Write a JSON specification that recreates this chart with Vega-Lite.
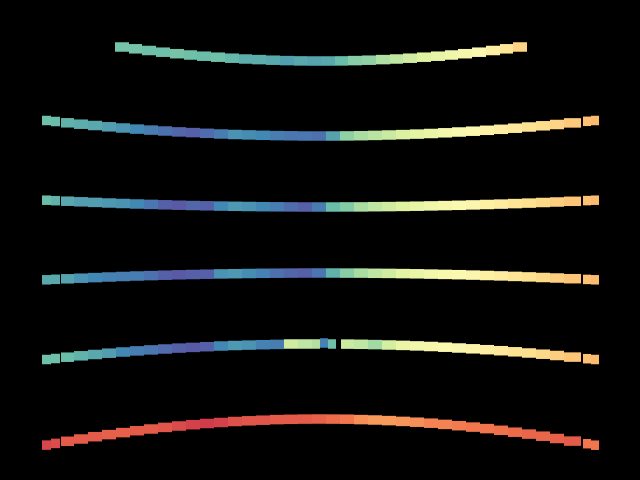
{
  "$schema": "https://vega.github.io/schema/vega-lite/v6.json",
  "width": 640,
  "height": 480,
  "autosize": {"type": "fit", "contains": "padding"},
  "padding": 0,
  "background": "#000000",
  "config": {"view": {"stroke": null}},
  "data": {
    "values": [
      {"r":1,"a":115,"b":129,"y":47.0,"v":0.78},{"r":1,"a":129,"b":142,"y":48.8,"v":0.78},{"r":1,"a":142,"b":156,"y":50.5,"v":0.79},{"r":1,"a":156,"b":170,"y":52.2,"v":0.79},{"r":1,"a":170,"b":184,"y":53.7,"v":0.78},{"r":1,"a":184,"b":197,"y":55.0,"v":0.79},{"r":1,"a":197,"b":211,"y":56.2,"v":0.80},{"r":1,"a":211,"b":225,"y":57.2,"v":0.79},{"r":1,"a":225,"b":239,"y":58.2,"v":0.81},{"r":1,"a":239,"b":252,"y":59.0,"v":0.83},{"r":1,"a":252,"b":266,"y":59.6,"v":0.83},{"r":1,"a":266,"b":280,"y":60.2,"v":0.84},{"r":1,"a":280,"b":294,"y":60.6,"v":0.86},{"r":1,"a":294,"b":307,"y":60.9,"v":0.84},{"r":1,"a":307,"b":321,"y":61.0,"v":0.85},{"r":1,"a":321,"b":335,"y":61.0,"v":0.84},{"r":1,"a":335,"b":348,"y":60.9,"v":0.80},{"r":1,"a":348,"b":362,"y":60.6,"v":0.75},{"r":1,"a":362,"b":376,"y":60.2,"v":0.74},{"r":1,"a":376,"b":390,"y":59.6,"v":0.69},{"r":1,"a":390,"b":403,"y":59.0,"v":0.66},{"r":1,"a":403,"b":417,"y":58.2,"v":0.63},{"r":1,"a":417,"b":431,"y":57.2,"v":0.60},{"r":1,"a":431,"b":445,"y":56.2,"v":0.57},{"r":1,"a":445,"b":458,"y":55.0,"v":0.54},{"r":1,"a":458,"b":472,"y":53.7,"v":0.52},{"r":1,"a":472,"b":486,"y":52.2,"v":0.50},{"r":1,"a":486,"b":500,"y":50.5,"v":0.47},{"r":1,"a":500,"b":513,"y":48.8,"v":0.43},{"r":1,"a":513,"b":527,"y":47.0,"v":0.38},

      {"r":2,"a":42,"b":51,"y":120.5,"v":0.79},{"r":2,"a":51,"b":60,"y":121.5,"v":0.80},{"r":2,"a":61,"b":74,"y":122.8,"v":0.82},{"r":2,"a":74,"b":88,"y":124.2,"v":0.83},{"r":2,"a":88,"b":102,"y":125.5,"v":0.84},{"r":2,"a":102,"b":116,"y":126.8,"v":0.86},{"r":2,"a":116,"b":130,"y":128.0,"v":0.88},{"r":2,"a":130,"b":144,"y":129.1,"v":0.90},{"r":2,"a":144,"b":158,"y":130.1,"v":0.92},{"r":2,"a":158,"b":172,"y":131.0,"v":0.94},{"r":2,"a":172,"b":186,"y":131.9,"v":0.96},{"r":2,"a":186,"b":200,"y":132.6,"v":0.97},{"r":2,"a":200,"b":214,"y":133.3,"v":0.95},{"r":2,"a":214,"b":228,"y":134.0,"v":0.92},{"r":2,"a":228,"b":242,"y":134.5,"v":0.88},{"r":2,"a":242,"b":256,"y":134.9,"v":0.89},{"r":2,"a":256,"b":270,"y":135.3,"v":0.90},{"r":2,"a":270,"b":284,"y":135.6,"v":0.92},{"r":2,"a":284,"b":298,"y":135.8,"v":0.93},{"r":2,"a":298,"b":312,"y":136.0,"v":0.93},{"r":2,"a":312,"b":326,"y":136.0,"v":0.94},{"r":2,"a":326,"b":340,"y":136.0,"v":0.85},{"r":2,"a":340,"b":354,"y":135.9,"v":0.74},{"r":2,"a":354,"b":368,"y":135.7,"v":0.70},{"r":2,"a":368,"b":382,"y":135.4,"v":0.67},{"r":2,"a":382,"b":396,"y":135.0,"v":0.64},{"r":2,"a":396,"b":410,"y":134.6,"v":0.61},{"r":2,"a":410,"b":424,"y":134.1,"v":0.59},{"r":2,"a":424,"b":438,"y":133.5,"v":0.56},{"r":2,"a":438,"b":452,"y":132.8,"v":0.53},{"r":2,"a":452,"b":466,"y":132.0,"v":0.51},{"r":2,"a":466,"b":480,"y":131.2,"v":0.50},{"r":2,"a":480,"b":494,"y":130.3,"v":0.48},{"r":2,"a":494,"b":508,"y":129.3,"v":0.46},{"r":2,"a":508,"b":522,"y":128.2,"v":0.44},{"r":2,"a":522,"b":536,"y":127.0,"v":0.42},{"r":2,"a":536,"b":550,"y":125.8,"v":0.40},{"r":2,"a":550,"b":564,"y":124.5,"v":0.38},{"r":2,"a":564,"b":581,"y":122.9,"v":0.36},{"r":2,"a":583,"b":591,"y":121.3,"v":0.34},{"r":2,"a":591,"b":599,"y":120.5,"v":0.33},

      {"r":3,"a":42,"b":51,"y":200.2,"v":0.80},{"r":3,"a":51,"b":60,"y":200.7,"v":0.82},{"r":3,"a":61,"b":74,"y":201.2,"v":0.84},{"r":3,"a":74,"b":88,"y":201.8,"v":0.86},{"r":3,"a":88,"b":102,"y":202.4,"v":0.86},{"r":3,"a":102,"b":116,"y":203.0,"v":0.87},{"r":3,"a":116,"b":130,"y":203.5,"v":0.88},{"r":3,"a":130,"b":144,"y":204.0,"v":0.90},{"r":3,"a":144,"b":158,"y":204.4,"v":0.93},{"r":3,"a":158,"b":172,"y":204.8,"v":0.97},{"r":3,"a":172,"b":186,"y":205.2,"v":0.98},{"r":3,"a":186,"b":200,"y":205.5,"v":0.96},{"r":3,"a":200,"b":214,"y":205.8,"v":0.97},{"r":3,"a":214,"b":228,"y":206.1,"v":0.90},{"r":3,"a":228,"b":242,"y":206.3,"v":0.87},{"r":3,"a":242,"b":256,"y":206.5,"v":0.88},{"r":3,"a":256,"b":270,"y":206.7,"v":0.90},{"r":3,"a":270,"b":284,"y":206.8,"v":0.92},{"r":3,"a":284,"b":298,"y":206.9,"v":0.95},{"r":3,"a":298,"b":312,"y":207.0,"v":0.97},{"r":3,"a":312,"b":326,"y":207.0,"v":0.92},{"r":3,"a":326,"b":340,"y":207.0,"v":0.80},{"r":3,"a":340,"b":354,"y":206.9,"v":0.76},{"r":3,"a":354,"b":368,"y":206.9,"v":0.70},{"r":3,"a":368,"b":382,"y":206.7,"v":0.66},{"r":3,"a":382,"b":396,"y":206.6,"v":0.63},{"r":3,"a":396,"b":410,"y":206.4,"v":0.60},{"r":3,"a":410,"b":424,"y":206.2,"v":0.57},{"r":3,"a":424,"b":438,"y":205.9,"v":0.54},{"r":3,"a":438,"b":452,"y":205.6,"v":0.52},{"r":3,"a":452,"b":466,"y":205.3,"v":0.50},{"r":3,"a":466,"b":480,"y":204.9,"v":0.49},{"r":3,"a":480,"b":494,"y":204.5,"v":0.47},{"r":3,"a":494,"b":508,"y":204.1,"v":0.45},{"r":3,"a":508,"b":522,"y":203.6,"v":0.43},{"r":3,"a":522,"b":536,"y":203.1,"v":0.41},{"r":3,"a":536,"b":550,"y":202.5,"v":0.39},{"r":3,"a":550,"b":564,"y":202.0,"v":0.37},{"r":3,"a":564,"b":581,"y":201.3,"v":0.35},{"r":3,"a":583,"b":591,"y":200.6,"v":0.34},{"r":3,"a":591,"b":599,"y":200.2,"v":0.33},

      {"r":4,"a":42,"b":51,"y":279.8,"v":0.84},{"r":4,"a":51,"b":60,"y":279.3,"v":0.84},{"r":4,"a":61,"b":74,"y":278.8,"v":0.85},{"r":4,"a":74,"b":88,"y":278.2,"v":0.88},{"r":4,"a":88,"b":102,"y":277.6,"v":0.90},{"r":4,"a":102,"b":116,"y":277.0,"v":0.91},{"r":4,"a":116,"b":130,"y":276.5,"v":0.92},{"r":4,"a":130,"b":144,"y":276.0,"v":0.92},{"r":4,"a":144,"b":158,"y":275.6,"v":0.94},{"r":4,"a":158,"b":172,"y":275.2,"v":0.97},{"r":4,"a":172,"b":186,"y":274.8,"v":0.98},{"r":4,"a":186,"b":200,"y":274.5,"v":0.97},{"r":4,"a":200,"b":214,"y":274.2,"v":0.97},{"r":4,"a":214,"b":228,"y":273.9,"v":0.88},{"r":4,"a":228,"b":242,"y":273.7,"v":0.87},{"r":4,"a":242,"b":256,"y":273.5,"v":0.89},{"r":4,"a":256,"b":270,"y":273.3,"v":0.91},{"r":4,"a":270,"b":284,"y":273.2,"v":0.94},{"r":4,"a":284,"b":298,"y":273.1,"v":0.96},{"r":4,"a":298,"b":312,"y":273.0,"v":0.97},{"r":4,"a":312,"b":326,"y":273.0,"v":0.93},{"r":4,"a":326,"b":340,"y":273.0,"v":0.82},{"r":4,"a":340,"b":354,"y":273.1,"v":0.75},{"r":4,"a":354,"b":368,"y":273.1,"v":0.70},{"r":4,"a":368,"b":382,"y":273.3,"v":0.66},{"r":4,"a":382,"b":396,"y":273.4,"v":0.63},{"r":4,"a":396,"b":410,"y":273.6,"v":0.59},{"r":4,"a":410,"b":424,"y":273.8,"v":0.56},{"r":4,"a":424,"b":438,"y":274.1,"v":0.53},{"r":4,"a":438,"b":452,"y":274.4,"v":0.51},{"r":4,"a":452,"b":466,"y":274.7,"v":0.50},{"r":4,"a":466,"b":480,"y":275.1,"v":0.49},{"r":4,"a":480,"b":494,"y":275.5,"v":0.47},{"r":4,"a":494,"b":508,"y":275.9,"v":0.45},{"r":4,"a":508,"b":522,"y":276.4,"v":0.43},{"r":4,"a":522,"b":536,"y":276.9,"v":0.41},{"r":4,"a":536,"b":550,"y":277.5,"v":0.39},{"r":4,"a":550,"b":564,"y":278.0,"v":0.37},{"r":4,"a":564,"b":581,"y":278.7,"v":0.35},{"r":4,"a":583,"b":591,"y":279.4,"v":0.34},{"r":4,"a":591,"b":599,"y":279.8,"v":0.33},

      {"r":5,"a":42,"b":51,"y":359.5,"v":0.79},{"r":5,"a":51,"b":60,"y":358.5,"v":0.79},{"r":5,"a":61,"b":74,"y":357.2,"v":0.80},{"r":5,"a":74,"b":88,"y":355.8,"v":0.82},{"r":5,"a":88,"b":102,"y":354.5,"v":0.84},{"r":5,"a":102,"b":116,"y":353.2,"v":0.86},{"r":5,"a":116,"b":130,"y":352.0,"v":0.90},{"r":5,"a":130,"b":144,"y":350.9,"v":0.92},{"r":5,"a":144,"b":158,"y":349.9,"v":0.93},{"r":5,"a":158,"b":172,"y":349.0,"v":0.95},{"r":5,"a":172,"b":186,"y":348.1,"v":0.97},{"r":5,"a":186,"b":200,"y":347.4,"v":0.98},{"r":5,"a":200,"b":214,"y":346.7,"v":0.97},{"r":5,"a":214,"b":228,"y":346.0,"v":0.90},{"r":5,"a":228,"b":242,"y":345.5,"v":0.87},{"r":5,"a":242,"b":256,"y":345.1,"v":0.88},{"r":5,"a":256,"b":270,"y":344.7,"v":0.91},{"r":5,"a":270,"b":284,"y":344.4,"v":0.92},{"r":5,"a":284,"b":298,"y":344.0,"v":0.63},{"r":5,"a":298,"b":312,"y":344.0,"v":0.66},{"r":5,"a":312,"b":320,"y":344.0,"v":0.68},{"r":5,"a":320,"b":328,"y":343.0,"v":0.91},{"r":5,"a":328,"b":336,"y":344.0,"v":0.79},{"r":5,"a":341,"b":354,"y":344.1,"v":0.64},{"r":5,"a":354,"b":368,"y":344.3,"v":0.66},{"r":5,"a":368,"b":382,"y":344.6,"v":0.71},{"r":5,"a":382,"b":396,"y":345.0,"v":0.62},{"r":5,"a":396,"b":410,"y":345.4,"v":0.56},{"r":5,"a":410,"b":424,"y":345.9,"v":0.53},{"r":5,"a":424,"b":438,"y":346.5,"v":0.52},{"r":5,"a":438,"b":452,"y":347.2,"v":0.50},{"r":5,"a":452,"b":466,"y":348.0,"v":0.49},{"r":5,"a":466,"b":480,"y":348.8,"v":0.48},{"r":5,"a":480,"b":494,"y":349.7,"v":0.46},{"r":5,"a":494,"b":508,"y":350.7,"v":0.44},{"r":5,"a":508,"b":522,"y":351.8,"v":0.42},{"r":5,"a":522,"b":536,"y":353.0,"v":0.41},{"r":5,"a":536,"b":550,"y":354.2,"v":0.39},{"r":5,"a":550,"b":564,"y":355.5,"v":0.37},{"r":5,"a":564,"b":581,"y":357.1,"v":0.35},{"r":5,"a":583,"b":591,"y":358.7,"v":0.34},{"r":5,"a":591,"b":599,"y":359.5,"v":0.33},

      {"r":6,"a":42,"b":51,"y":445.1,"v":0.12},{"r":6,"a":51,"b":60,"y":443.4,"v":0.13},{"r":6,"a":61,"b":74,"y":441.3,"v":0.16},{"r":6,"a":74,"b":88,"y":439.0,"v":0.16},{"r":6,"a":88,"b":102,"y":436.7,"v":0.16},{"r":6,"a":102,"b":116,"y":434.6,"v":0.17},{"r":6,"a":116,"b":130,"y":432.6,"v":0.17},{"r":6,"a":130,"b":144,"y":430.7,"v":0.16},{"r":6,"a":144,"b":158,"y":429.0,"v":0.16},{"r":6,"a":158,"b":172,"y":427.4,"v":0.15},{"r":6,"a":172,"b":186,"y":426.0,"v":0.13},{"r":6,"a":186,"b":200,"y":424.7,"v":0.11},{"r":6,"a":200,"b":214,"y":423.5,"v":0.10},{"r":6,"a":214,"b":228,"y":422.5,"v":0.11},{"r":6,"a":228,"b":242,"y":421.5,"v":0.14},{"r":6,"a":242,"b":256,"y":420.8,"v":0.15},{"r":6,"a":256,"b":270,"y":420.2,"v":0.15},{"r":6,"a":270,"b":284,"y":419.6,"v":0.16},{"r":6,"a":284,"b":298,"y":419.3,"v":0.16},{"r":6,"a":298,"b":312,"y":419.1,"v":0.16},{"r":6,"a":312,"b":326,"y":419.0,"v":0.17},{"r":6,"a":326,"b":340,"y":419.1,"v":0.19},{"r":6,"a":340,"b":354,"y":419.2,"v":0.21},{"r":6,"a":354,"b":368,"y":419.6,"v":0.25},{"r":6,"a":368,"b":382,"y":420.0,"v":0.27},{"r":6,"a":382,"b":396,"y":420.6,"v":0.27},{"r":6,"a":396,"b":410,"y":421.4,"v":0.26},{"r":6,"a":410,"b":424,"y":422.2,"v":0.25},{"r":6,"a":424,"b":438,"y":423.2,"v":0.23},{"r":6,"a":438,"b":452,"y":424.4,"v":0.23},{"r":6,"a":452,"b":466,"y":425.7,"v":0.22},{"r":6,"a":466,"b":480,"y":427.1,"v":0.21},{"r":6,"a":480,"b":494,"y":428.6,"v":0.21},{"r":6,"a":494,"b":508,"y":430.3,"v":0.20},{"r":6,"a":508,"b":522,"y":432.2,"v":0.19},{"r":6,"a":522,"b":536,"y":434.1,"v":0.18},{"r":6,"a":536,"b":550,"y":436.2,"v":0.18},{"r":6,"a":550,"b":564,"y":438.5,"v":0.17},{"r":6,"a":564,"b":581,"y":441.1,"v":0.16},{"r":6,"a":583,"b":591,"y":443.7,"v":0.21},{"r":6,"a":591,"b":599,"y":445.2,"v":0.21}
    ]
  },
  "mark": {"type": "rect", "height": 9.5},
  "encoding": {
    "x": {"field": "a", "type": "quantitative", "scale": {"domain": [0, 640], "nice": false, "zero": false}, "axis": null},
    "x2": {"field": "b"},
    "y": {"field": "y", "type": "quantitative", "scale": {"domain": [0, 480], "nice": false, "zero": false, "reverse": true}, "axis": null},
    "color": {"field": "v", "type": "quantitative", "scale": {"scheme": "spectral", "domain": [0, 1]}, "legend": null}
  }
}
